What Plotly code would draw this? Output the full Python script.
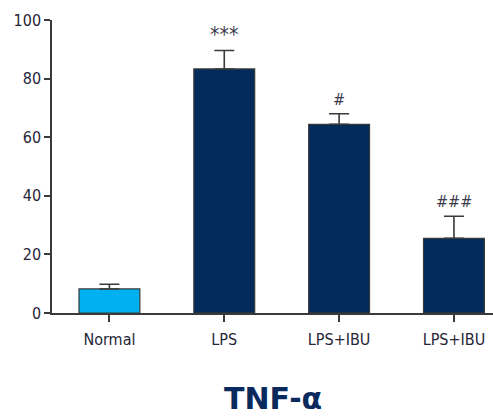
import plotly.graph_objects as go

# Group labels, mean TNF-α levels, upper error (SD) and significance marks
groups = ["Normal", "LPS", "LPS+IBU", "LPS+IBU "]
means = [8.2, 83.3, 64.4, 25.5]
errors = [1.6, 6.3, 3.6, 7.5]
marks = ["", "***", "#", "###"]
bar_colors = ["#00b0f0", "#022a5a", "#022a5a", "#022a5a"]

axis_color = "#3a3a3a"
narrow = "DejaVu Sans Condensed, Liberation Sans Narrow, Arial Narrow, sans-serif"
label_font = dict(family=narrow, size=16, color="#262636")

fig = go.Figure()
fig.add_trace(go.Bar(
    x=list(range(len(groups))),
    y=means,
    width=0.53,
    marker=dict(color=bar_colors, line=dict(color=axis_color, width=1.2)),
    error_y=dict(type="data", array=errors, arrayminus=[0] * len(errors),
                 symmetric=False, color=axis_color, thickness=1.6, width=10),
    showlegend=False,
))

# Significance marks above the error bars
for i, (m, e, s) in enumerate(zip(means, errors, marks)):
    if s:
        star = s.startswith("*")
        fig.add_annotation(x=i, y=m + e, text=s, showarrow=False, yanchor="bottom",
                           yshift=1 if star else 3,
                           font=dict(family=narrow, size=21 if star else 16, color="#3a3a4a"))

fig.add_annotation(x=0.5, y=-0.293, xref="paper", yref="paper", text="<b>TNF-α</b>",
                   showarrow=False, yanchor="middle",
                   font=dict(family="DejaVu Sans, Liberation Sans, Arial, sans-serif", size=30,
                             color="#0a2a5e"))

fig.update_xaxes(
    range=[-0.5, 3.34], tickmode="array", tickvals=list(range(len(groups))),
    ticktext=[g.strip() for g in groups], showline=True, linecolor=axis_color, linewidth=1.5,
    ticks="outside", ticklen=7, tickwidth=1.5, tickcolor=axis_color,
    showgrid=False, zeroline=False, tickfont=label_font, ticklabelstandoff=4,
)
fig.update_yaxes(
    range=[0, 100], tickvals=[0, 20, 40, 60, 80, 100], showline=True,
    linecolor=axis_color, linewidth=1.5, ticks="outside", ticklen=6, tickwidth=1.5,
    tickcolor=axis_color, showgrid=False, zeroline=False, tickfont=label_font,
)
fig.update_layout(
    width=493, height=420, margin=dict(l=52, r=0, t=20, b=107),
    plot_bgcolor="white", paper_bgcolor="white", bargap=0.47,
)
fig.write_html("out.html")
